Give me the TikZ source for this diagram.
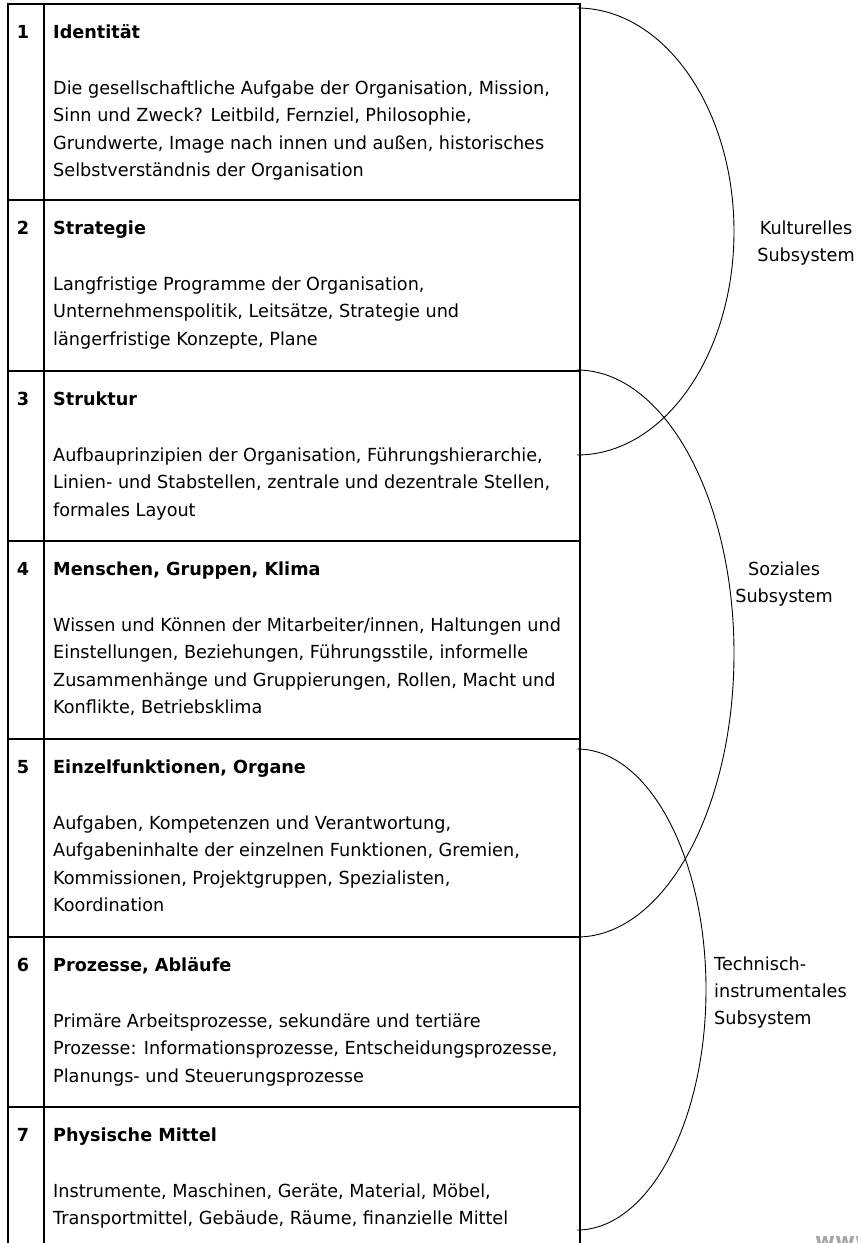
\documentclass[tikz,border=0pt]{standalone}
\usepackage{fontspec}
\setmainfont{DejaVu Sans}[FakeStretch=0.98]
\usetikzlibrary{positioning}

\begin{document}
\begin{tikzpicture}[x=1pt, y=-1pt,
  num/.style={anchor=base, inner sep=0pt, font=\fontsize{18}{22}\bfseries},
  head/.style={anchor=base west, inner sep=0pt, font=\fontsize{18}{22}\bfseries},
  body/.style={anchor=north west, align=left, inner sep=0pt, font=\fontsize{18}{27.5}\selectfont},
  sub/.style={align=center, inner sep=0pt, font=\fontsize{18}{27}\selectfont},
  rule/.style={line width=1.2pt},
  bow/.style={line width=0.9pt}]
\useasboundingbox (0,0) rectangle (858,1243);

% table frame
\draw[rule] (8,1243) -- (8,4) -- (580,4) -- (580,1243);
\draw[rule] (44,4) -- (44,1243);
\foreach \y in {200,371,541,739,937,1107}
  \draw[rule] (8,\y) -- (580,\y);

% row 1
\node[num] (n1) at (23,38) {1};
\node[head] (h1) at (53,38) {Identität};
\node[body] (b1) at (53,75) {\strut Die gesellschaftliche Aufgabe der Organisation, Mission,\\
  Sinn und Zweck? Leitbild, Fernziel, Philosophie,\\
  Grundwerte, Image nach innen und außen, historisches\\
  Selbstverständnis der Organisation};

% row 2
\node[num] (n2) at (23,234) {2};
\node[head] (h2) at (53,234) {Strategie};
\node[body] (b2) at (53,271) {\strut Langfristige Programme der Organisation,\\
  Unternehmenspolitik, Leitsätze, Strategie und\\
  längerfristige Konzepte, Plane};

% row 3
\node[num] (n3) at (23,405) {3};
\node[head] (h3) at (53,405) {Struktur};
\node[body] (b3) at (53,442) {\strut Aufbauprinzipien der Organisation, Führungshierarchie,\\
  Linien- und Stabstellen, zentrale und dezentrale Stellen,\\
  formales Layout};

% row 4
\node[num] (n4) at (23,575) {4};
\node[head] (h4) at (53,575) {Menschen, Gruppen, Klima};
\node[body] (b4) at (53,612) {\strut Wissen und Können der Mitarbeiter/innen, Haltungen und\\
  Einstellungen, Beziehungen, Führungsstile, informelle\\
  Zusammenhänge und Gruppierungen, Rollen, Macht und\\
  Konflikte, Betriebsklima};

% row 5
\node[num] (n5) at (23,773) {5};
\node[head] (h5) at (53,773) {Einzelfunktionen, Organe};
\node[body] (b5) at (53,810) {\strut Aufgaben, Kompetenzen und Verantwortung,\\
  Aufgabeninhalte der einzelnen Funktionen, Gremien,\\
  Kommissionen, Projektgruppen, Spezialisten,\\
  Koordination};

% row 6
\node[num] (n6) at (23,971) {6};
\node[head] (h6) at (53,971) {Prozesse, Abläufe};
\node[body] (b6) at (53,1008) {\strut Primäre Arbeitsprozesse, sekundäre und tertiäre\\
  Prozesse: Informationsprozesse, Entscheidungsprozesse,\\
  Planungs- und Steuerungsprozesse};

% row 7
\node[num] (n7) at (23,1141) {7};
\node[head] (h7) at (53,1141) {Physische Mittel};
\node[body] (b7) at (53,1178) {\strut Instrumente, Maschinen, Geräte, Material, Möbel,\\
  Transportmittel, Gebäude, Räume, finanzielle Mittel};

% subsystems
\coordinate (kult) at (577,8);
\coordinate (soz) at (577,370);
\coordinate (tech) at (577,749);
\draw[bow] (kult) arc[start angle=90, end angle=-90, x radius=157pt, y radius=223.5pt];
\draw[bow] (soz) arc[start angle=90, end angle=-90, x radius=157pt, y radius=283.5pt];
\draw[bow] (tech) arc[start angle=90, end angle=-90, x radius=129pt, y radius=240.5pt];

\node[sub] (lk) at (806,243) {Kulturelles\\Subsystem};
\node[sub] (ls) at (784,584) {Soziales\\Subsystem};
\node[sub, align=left, anchor=west] (lt) at (714,993) {Technisch-\\instrumentales\\Subsystem};

\node[anchor=north west, inner sep=0pt, text=gray!70, font=\fontsize{22}{24}\bfseries] (www) at (815,1236) {www};
\end{tikzpicture}
\end{document}
